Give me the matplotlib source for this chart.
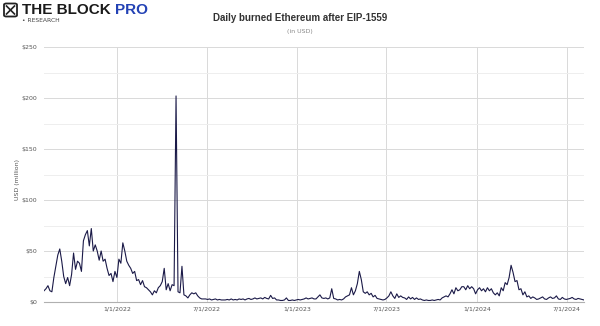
import numpy as np
import pandas as pd
import matplotlib
matplotlib.use("Agg")
import matplotlib.pyplot as plt
from matplotlib.patches import FancyBboxPatch
from matplotlib.lines import Line2D

# ---------------- data ----------------
start_date = "2021-08-05"
step_days = 4
burned_usd_m = [
    11, 13, 16, 11, 10, 24, 35, 46, 52, 40,
    25, 18, 24, 16, 27, 48, 32, 40, 38, 30,
    60, 66, 70, 55, 72, 50, 56, 50, 41, 50,
    40, 42, 33, 26, 28, 20, 30, 24, 42, 38,
    58, 50, 40, 36, 33, 28,
    30, 21, 22, 17, 21, 15, 14, 12, 10, 7,
    11, 9, 14, 16, 20, 33, 12, 18, 11, 17,
    16, 202, 10, 9, 35, 7, 6, 4, 7, 9,
    8, 9, 6, 4, 3, 3, 3, 2.5, 3, 2,
    2.5, 3, 2, 2.5, 2, 2,
    2, 2.5, 2, 3, 2, 2.5, 2, 3, 2.5, 3,
    2, 3, 3.5, 2.5, 3, 4, 3, 3.5, 4, 3,
    4.5, 3.5, 3, 6.5, 3.5, 4, 2, 2, 1.5, 1.5,
    2, 4, 1.5, 1.5, 2, 1.5, 2, 2.5, 2, 2.5,
    3, 4, 3, 3.5, 4, 3,
    3, 5, 7, 4, 3.5, 4, 3, 4, 13, 3.5,
    3, 2, 2.5, 2, 3, 5, 6, 7, 14, 7,
    11, 18, 30, 22, 10, 8.5, 10, 7, 8.5, 5,
    6.5, 3.5, 3, 2.5, 2, 2.5, 4, 6, 10, 6,
    3.5, 8, 4.5, 6, 4.5,
    4, 2.5, 5, 3, 4.5, 2.5, 4, 2.5, 3, 2,
    1.5, 2, 1.5, 1.5, 2, 1.5, 2, 2.5, 2, 4,
    5, 6, 5, 8, 12, 8, 14, 11, 12, 15,
    15, 12, 16, 13, 15, 13, 8, 12, 14, 11,
    13, 10, 14, 11, 13, 9,
    7, 9, 6, 14, 11, 19, 17, 24, 36, 29,
    20, 21, 12, 13, 7, 10, 5, 6, 3.5, 5,
    4, 2.5, 3, 4, 5, 3, 2.5, 4, 5, 3.5,
    4, 6, 3, 2.5, 4.5, 3, 2.5, 3, 3.5, 4.5,
    3, 2.5, 3.5, 3, 2.5, 2,
]
dates = pd.date_range(start_date, periods=len(burned_usd_m), freq=f"{step_days}D")

x_tick_dates = ["2022-01-01", "2022-07-01", "2023-01-01", "2023-07-01", "2024-01-01", "2024-07-01"]
x_tick_labels = ["1/1/2022", "7/1/2022", "1/1/2023", "7/1/2023", "1/1/2024", "7/1/2024"]
y_ticks = [0, 50, 100, 150, 200, 250]
y_tick_labels = ["$0", "$50", "$100", "$150", "$200", "$250"]
y_minor = [25, 75, 125, 175, 225]

title = "Daily burned Ethereum after EIP-1559"
subtitle = "(in USD)"
y_label = "USD (million)"

# ---------------- figure ----------------
W, H = 600, 326
fig = plt.figure(figsize=(W / 100, H / 100), dpi=100)
ax = fig.add_axes([44 / W, 1 - 302 / H, (584 - 44) / W, (302 - 47) / H])

ax.plot(dates, burned_usd_m, color="#1b1a48", lw=0.8, zorder=3)

ax.set_ylim(0, 250)
ax.set_xlim(dates[0], dates[-1])
ax.set_yticks(y_ticks)
ax.set_yticklabels(y_tick_labels)
ax.set_yticks(y_minor, minor=True)
ax.set_xticks(pd.to_datetime(x_tick_dates))
ax.set_xticklabels(x_tick_labels)

ax.grid(axis="y", which="major", color="#d9d9d9", lw=0.7)
ax.grid(axis="y", which="minor", color="#eeeeee", lw=0.7)
ax.grid(axis="x", which="major", color="#d9d9d9", lw=0.7)
for s in ["top", "right", "left"]:
    ax.spines[s].set_visible(False)
ax.spines["bottom"].set_color("#b0b0b0")
ax.spines["bottom"].set_linewidth(0.8)
ax.tick_params(axis="both", which="both", length=0, labelsize=4.5, labelcolor="#555555")
ax.tick_params(axis="y", pad=5)
ax.tick_params(axis="x", pad=3)
ax.set_axisbelow(True)

fig.text(18 / W, 1 - 180 / H, y_label, rotation=90, ha="center", va="center",
         fontsize=4.5, color="#555555")

# title
fig.text(300 / W, 1 - 18 / H, title, ha="center", va="center",
         fontsize=7, fontweight="bold", color="#333333", family="Liberation Sans")
fig.text(300 / W, 1 - 31 / H, subtitle, ha="center", va="center",
         fontsize=4.5, color="#888888")

# logo
icon = FancyBboxPatch((4 / W, 1 - 16.5 / H), 13 / W, 13 / H,
                      boxstyle="round,pad=0,rounding_size=0.004",
                      transform=fig.transFigure, fill=False, ec="#222222", lw=1.3)
fig.patches.append(icon)
fig.lines.append(Line2D([6.5 / W, 14.5 / W], [1 - 6 / H, 1 - 14 / H],
                        transform=fig.transFigure, color="#222222", lw=1.2))
fig.lines.append(Line2D([6.5 / W, 14.5 / W], [1 - 14 / H, 1 - 6 / H],
                        transform=fig.transFigure, color="#222222", lw=1.2))
t1 = fig.text(22 / W, 1 - 10 / H, "THE BLOCK", ha="left", va="center",
              fontsize=11, fontweight="bold", color="#1a1a1a", family="Liberation Sans")
fig.canvas.draw()
bb = t1.get_window_extent()
fig.text((bb.x1 + 4) / W, 1 - 10 / H, "PRO", ha="left", va="center",
         fontsize=11, fontweight="bold", color="#2342b5", family="Liberation Sans")
fig.text(22 / W, 1 - 20.5 / H, "• RESEARCH", ha="left", va="center",
         fontsize=4.3, color="#444444")

fig.savefig("out.png", dpi=100, facecolor="white")
